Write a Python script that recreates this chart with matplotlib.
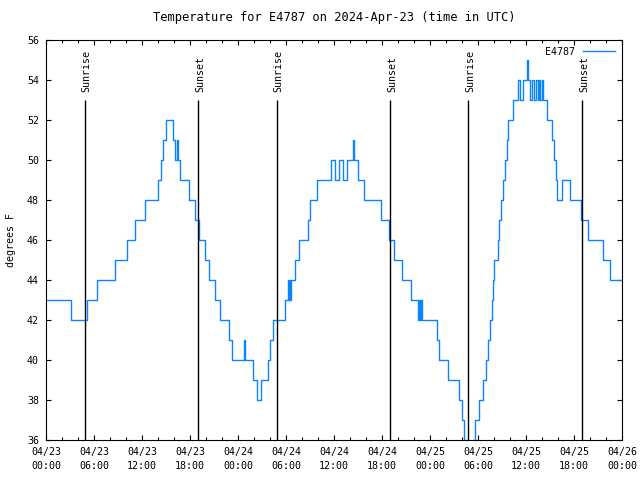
from datetime import datetime, timedelta

import matplotlib
matplotlib.use('Agg')
import matplotlib.pyplot as plt
import matplotlib.transforms as mtransforms

station = "E4787"
start = datetime(2024, 4, 23)

# hours since 2024-04-23 00:00 UTC where the reading changes, and the new reading (F)
change_hours = [0.0, 3.15, 5.1, 6.35, 8.6, 10.1, 11.15, 12.4, 14.05, 14.35, 14.6, 14.95,
                15.85, 16.1, 16.4, 16.55, 16.75, 17.85, 18.6, 19.15, 19.85, 20.4, 21.1,
                21.7, 22.85, 23.25, 24.7, 24.9, 25.85, 26.4, 26.9, 27.7, 27.95, 28.35,
                29.9, 30.3, 30.4, 30.5, 30.55, 30.65, 31.15, 31.6, 32.7, 32.95, 33.9,
                35.65, 36.1, 36.6, 37.1, 37.65, 38.35, 38.5, 39.0, 39.75, 41.85, 42.85,
                43.5, 44.55, 45.6, 46.5, 46.65, 46.8, 46.9, 47.05, 48.85, 49.15, 50.3,
                51.6, 51.95, 52.3, 52.45, 53.35, 53.65, 54.1, 54.6, 54.95, 55.25, 55.5,
                55.75, 55.9, 56.05, 56.45, 56.65, 56.85, 57.1, 57.35, 57.6, 57.8, 58.4,
                59.05, 59.3, 59.6, 60.15, 60.3, 60.5, 60.7, 60.95, 61.3, 61.5, 61.6,
                61.8, 61.95, 62.1, 62.6, 63.3, 63.5, 63.7, 63.9, 64.55, 65.5, 66.85,
                67.75, 69.6, 70.55, 72.0]
change_temps = [43, 42, 43, 44, 45, 46, 47, 48, 49, 50, 51, 52,
                51, 50, 51, 50, 49, 48, 47, 46, 45, 44, 43,
                42, 41, 40, 41, 40, 39, 38, 39, 40, 41, 42,
                43, 44, 43, 44, 43, 44, 45, 46, 47, 48, 49,
                50, 49, 50, 49, 50, 51, 50, 49, 48, 47, 46,
                45, 44, 43, 42, 43, 42, 43, 42, 41, 40, 39,
                38, 37, 36, 35, 36, 37, 38, 39, 40, 41, 42,
                43, 44, 45, 46, 47, 48, 49, 50, 51, 52, 53,
                54, 53, 54, 55, 54, 53, 54, 53, 54, 53, 54,
                53, 54, 53, 52, 51, 50, 49, 48, 49, 48, 47,
                46, 45, 44, 44]

sun_hours = [4.9, 19.05, 28.82, 43.05, 52.8, 67.05]
sun_names = ["Sunrise", "Sunset", "Sunrise", "Sunset", "Sunrise", "Sunset"]

tick_hours = list(range(0, 73, 6))
tick_labels = [(start + timedelta(hours=h)).strftime("%m/%d\n%H:%M") for h in tick_hours]

plt.rcParams['font.family'] = ['DejaVu Sans Mono']
plt.rcParams['font.size'] = 7.2

fig = plt.figure(figsize=(6.4, 4.8), dpi=100)
ax = fig.add_axes([46/640, 40/480, 576/640, 400/480])

ax.plot(change_hours, change_temps, drawstyle='steps-post', color='#0a84ff', lw=1.0,
        label=station)

ax.vlines(sun_hours, 36, 53, color='black', lw=1.0)
trans = mtransforms.blended_transform_factory(ax.transData, ax.transAxes)
for h, name in zip(sun_hours, sun_names):
    ax.annotate(name, (h, (440 - 92) / 400), xycoords=trans, xytext=(1.2, 0),
                textcoords='offset points', rotation=90, ha='center', va='bottom')

ax.set_xlim(0, 72)
ax.set_ylim(36, 56)
ax.set_xticks(tick_hours)
ax.set_xticklabels(tick_labels, linespacing=1.45)
ax.set_xticks(range(0, 73, 2), minor=True)
ax.set_yticks(range(36, 57, 2))
ax.tick_params(which='both', direction='in', top=True, right=True, width=0.8)
ax.tick_params(which='major', length=3.3, pad=5)
ax.tick_params(which='minor', length=2.0)
for s in ax.spines.values():
    s.set_linewidth(0.8)

ax.set_ylabel("degrees F", labelpad=8)
ax.set_title(f"Temperature for {station} on 2024-Apr-23 (time in UTC)", pad=14)

leg = ax.legend(loc='upper right', frameon=False, handlelength=3.2, handletextpad=0.8,
                markerfirst=False, borderaxespad=0.3)

fig.savefig('out.png', dpi=100)
